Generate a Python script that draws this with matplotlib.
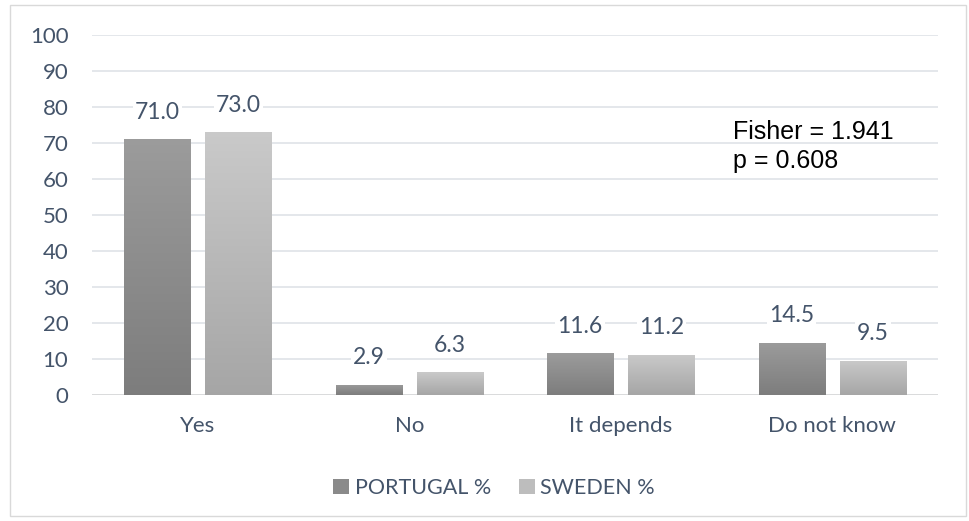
import numpy as np
import matplotlib.pyplot as plt
from matplotlib.patches import Rectangle, Patch

categories = ["Yes", "No", "It depends", "Do not know"]
portugal = [71.0, 2.9, 11.6, 14.5]
sweden = [73.0, 6.3, 11.2, 9.5]
series_names = ["PORTUGAL %", "SWEDEN %"]
yticks = list(range(0, 101, 10))

txt = "#44546a"
plt.rcParams['font.family'] = ['Lato', 'DejaVu Sans']

fig = plt.figure(figsize=(9.69, 5.21), dpi=100)
fig.patches.append(Rectangle((10 / 969, 5 / 521), 956 / 969, 511 / 521,
                             transform=fig.transFigure, fill=False,
                             edgecolor="#d9d9d9", lw=1))
ax = fig.add_axes([92 / 969, 126 / 521, 846 / 969, 360 / 521])

x = np.arange(len(categories))
w = 0.313
off = 0.192

def grad_bars(xs, vals, top, bottom):
    bars = ax.bar(xs, vals, w, color="none", zorder=3)
    g = np.linspace(0, 1, 100).reshape(-1, 1)
    c0 = np.array(top)
    c1 = np.array(bottom)
    img = c1 + (c0 - c1) * g
    img = img.reshape(100, 1, 3)
    for b in bars:
        bx, by = b.get_x(), b.get_y()
        bw, bh = b.get_width(), b.get_height()
        im = ax.imshow(img, extent=[bx, bx + bw, by, by + bh], origin="lower",
                       aspect="auto", zorder=3, interpolation="bilinear")
        im.set_clip_path(b)
    return bars

b1 = grad_bars(x - off, portugal, (0.61, 0.61, 0.61), (0.49, 0.49, 0.49))
b2 = grad_bars(x + off, sweden, (0.79, 0.79, 0.79), (0.65, 0.65, 0.65))

for xs, vals in ((x - off, portugal), (x + off, sweden)):
    for xi, v in zip(xs, vals):
        ax.text(xi, v + 7.5, f"{v:.1f}", ha="center", va="center", fontsize=16.5,
                color=txt, zorder=4,
                bbox=dict(facecolor="white", edgecolor="none", pad=1.5))

ax.set_xlim(-0.5, 3.5)
ax.set_ylim(0, 100)
ax.set_yticks(yticks)
ax.set_xticks(x)
ax.set_xticklabels(categories)
ax.tick_params(length=0, labelsize=16, labelcolor=txt)
ax.tick_params(axis="y", pad=17)
ax.tick_params(axis="x", pad=15)
ax.grid(axis="y", color="#dfe3e8", lw=1.2, zorder=0)
for s in ax.spines.values():
    s.set_visible(False)
ax.axhline(0, color="#d9d9d9", lw=1.2, zorder=2)

ax.text(641 / 846, 69.0, "Fisher = 1.941\np = 0.608", fontsize=18,
        family="Liberation Sans", color="black", va="center", ha="left",
        linespacing=1.3, zorder=4, transform=ax.get_yaxis_transform())

handles = [Patch(facecolor="#8a8a8a", edgecolor="none"),
           Patch(facecolor="#bdbdbd", edgecolor="none")]
fig.legend(handles, series_names, loc="center", bbox_to_anchor=(494 / 969, 1 - 488 / 521),
           ncol=2, frameon=False, fontsize=15.5, labelcolor=txt, handlelength=0.75,
           handleheight=0.75, handletextpad=0.25, columnspacing=1.3)

fig.savefig("out.png", dpi=100)
